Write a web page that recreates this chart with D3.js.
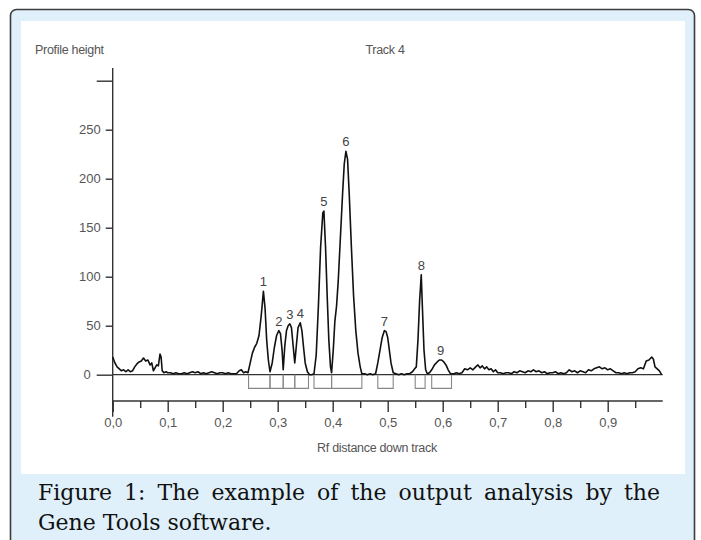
<!DOCTYPE html>
<html>
<head>
<meta charset="utf-8">
<script src="https://cdn.jsdelivr.net/npm/d3@7"></script>
<style>
  html, body { margin: 0; padding: 0; background: #ffffff; }
  svg { display: block; }
</style>
</head>
<body>
<svg id="chart" width="701" height="540"></svg>
<script>
// ---------------- DATA ----------------
const profileRf = [
  0.000,0.004,0.008,0.012,0.016,0.020,0.024,0.028,0.032,0.036,0.040,0.044,0.048,0.052,0.056,0.060,0.064,0.068,0.071,0.074,
  0.077,0.080,0.083,0.086,0.088,0.090,0.093,0.097,0.100,0.105,0.110,0.115,0.120,0.125,0.130,0.135,0.140,0.145,0.150,0.155,
  0.160,0.165,0.170,0.175,0.180,0.185,0.190,0.195,0.200,0.205,0.210,0.215,0.220,0.225,0.230,0.234,0.238,0.242,0.246,0.250,
  0.254,0.258,0.262,0.266,0.270,0.274,0.277,0.280,0.283,0.286,0.290,0.294,0.298,0.302,0.305,0.308,0.310,0.313,0.316,0.319,
  0.322,0.325,0.328,0.331,0.334,0.337,0.341,0.344,0.347,0.350,0.354,0.358,0.362,0.366,0.370,0.374,0.378,0.382,0.384,0.387,
  0.390,0.393,0.396,0.398,0.401,0.404,0.407,0.410,0.414,0.418,0.421,0.424,0.427,0.430,0.434,0.438,0.442,0.446,0.450,0.453,
  0.458,0.463,0.468,0.473,0.478,0.482,0.486,0.490,0.494,0.497,0.500,0.503,0.506,0.510,0.515,0.520,0.525,0.530,0.535,0.540,
  0.545,0.549,0.552,0.555,0.558,0.561,0.563,0.566,0.569,0.572,0.576,0.580,0.585,0.590,0.594,0.598,0.602,0.606,0.610,0.614,
  0.620,0.625,0.630,0.635,0.640,0.645,0.650,0.655,0.660,0.664,0.668,0.672,0.676,0.680,0.684,0.688,0.692,0.696,0.700,0.705,
  0.710,0.715,0.720,0.725,0.730,0.735,0.740,0.745,0.750,0.755,0.760,0.765,0.770,0.775,0.780,0.785,0.790,0.795,0.800,0.805,
  0.810,0.815,0.820,0.825,0.830,0.835,0.840,0.845,0.850,0.855,0.860,0.865,0.870,0.875,0.880,0.885,0.890,0.895,0.900,0.905,
  0.910,0.915,0.920,0.925,0.930,0.935,0.940,0.945,0.950,0.955,0.960,0.965,0.970,0.975,0.980,0.983,0.986,0.990,0.994,0.998
];
const profileHeight = [
  18,12,8,6,4,5,3,5,3,4,8,11,13,14,17,14,15,10,12,4,
  7,10,9,21,18,4,2,3,2,2,1,2,1,1,2,1,2,3,2,3,
  1,2,1,2,3,2,1,2,2,1,2,1,1,1,4,5,2,3,2,12,
  22,28,32,40,60,85,68,35,15,3,12,28,40,45,42,25,5,30,45,50,
  52,48,30,12,30,48,53,45,28,12,3,0,0,1,20,70,130,165,167,130,
  80,35,8,2,25,55,70,95,140,185,215,228,220,185,130,80,45,22,8,1,
  1,0,1,0,1,12,25,38,45,44,38,25,12,2,1,0,1,0,1,1,
  3,6,8,35,75,102,70,25,5,1,2,5,10,13,15,15,13,10,5,1,
  1,2,1,2,6,5,7,5,8,10,7,9,6,8,5,6,3,5,2,2,
  1,2,2,1,3,2,4,3,2,4,3,5,3,4,2,3,1,2,2,3,
  1,2,1,2,5,3,4,2,4,3,2,5,4,6,7,8,6,7,5,6,
  4,2,2,1,2,1,2,2,3,6,7,6,14,15,18,16,8,6,4,0
];

const peakIds    = ["1","2","3","4","5","6","7","8","9"];
const peakRf     = [0.274,0.302,0.322,0.341,0.384,0.424,0.494,0.561,0.596];
const peakTop    = [85,45,52,53,167,228,45,102,15];
const peakStart  = [0.247,0.286,0.310,0.331,0.366,0.398,0.482,0.550,0.580];
const peakEnd    = [0.286,0.310,0.331,0.356,0.398,0.453,0.510,0.568,0.616];

const yTickValues  = [50,100,150,200,250];
const yLongTicks   = [0,300];
const xMajorTicks  = [0,0.1,0.2,0.3,0.4,0.5,0.6,0.7,0.8,0.9];
const xMinorTicks  = [0.05,0.15,0.25,0.35,0.45,0.55,0.65,0.75,0.85,0.95];

const titleLeft  = "Profile height";
const titleRight = "Track 4";
const xLabel     = "Rf distance down track";
const captionLine1 = "Figure 1: The example of the output analysis by the";
const captionLine2 = "Gene Tools software.";

// ---------------- DRAW ----------------
const svg = d3.select("#chart");

// frame
svg.append("rect")
  .attr("x", 10.5).attr("y", 9.5).attr("width", 684).attr("height", 560)
  .attr("rx", 6).attr("ry", 6)
  .attr("fill", "#dff0fa").attr("stroke", "#3c3c3c").attr("stroke-width", 1.6);
svg.append("rect")
  .attr("x", 21).attr("y", 21).attr("width", 664).attr("height", 453)
  .attr("fill", "#ffffff");

const x = d3.scaleLinear().domain([0, 1]).range([112.7, 662.7]);
const y = d3.scaleLinear().domain([0, 300]).range([374.7, 80.7]);

const labelFont = "'Liberation Sans', Arial, sans-serif";
const labelColor = "#555";

// titles
svg.append("text").attr("x", 35).attr("y", 54)
  .attr("font-family", labelFont).attr("font-size", 12.5)
  .attr("fill", labelColor).attr("letter-spacing", -0.3)
  .text(titleLeft);
svg.append("text").attr("x", 385).attr("y", 54).attr("text-anchor", "middle")
  .attr("font-family", labelFont).attr("font-size", 12.5)
  .attr("fill", labelColor).attr("letter-spacing", -0.3)
  .text(titleRight);

// y axis line
svg.append("line")
  .attr("x1", x(0)).attr("x2", x(0))
  .attr("y1", y(313)).attr("y2", y(-43))
  .attr("stroke", "#333").attr("stroke-width", 1.4);

// y axis short ticks with labels
const yAxis = d3.axisLeft(y).tickValues(yTickValues).tickSize(7).tickPadding(5)
  .tickFormat(d3.format("d"));
const gy = svg.append("g").attr("transform", `translate(${x(0)},0)`).call(yAxis);
gy.select(".domain").remove();
gy.selectAll(".tick line").attr("stroke", "#333").attr("stroke-width", 1.4);
gy.selectAll(".tick text").attr("font-family", labelFont).attr("font-size", 13)
  .attr("fill", labelColor);

// y axis long ticks (0 labeled, 300 unlabeled)
const yAxisLong = d3.axisLeft(y).tickValues(yLongTicks).tickSize(16).tickPadding(6)
  .tickFormat(d => d === 0 ? "0" : "");
const gy2 = svg.append("g").attr("transform", `translate(${x(0)},0)`).call(yAxisLong);
gy2.select(".domain").remove();
gy2.selectAll(".tick line").attr("stroke", "#333").attr("stroke-width", 1.4);
gy2.selectAll(".tick text").attr("font-family", labelFont).attr("font-size", 13)
  .attr("fill", labelColor);

// baseline at 0 across the track
svg.append("line")
  .attr("x1", x(0)).attr("x2", x(1))
  .attr("y1", y(0)).attr("y2", y(0))
  .attr("stroke", "#333").attr("stroke-width", 1.2);

// x axis
const xAxisY = 401;
const xAxis = d3.axisBottom(x).tickValues(xMajorTicks).tickSize(11).tickPadding(6)
  .tickFormat(d => d3.format(".1f")(d).replace(".", ","));
const gx = svg.append("g").attr("transform", `translate(0,${xAxisY})`).call(xAxis);
gx.select(".domain").attr("stroke", "#333").attr("stroke-width", 1.4)
  .attr("d", `M${x(0)},0H${x(1)}`);
gx.selectAll(".tick line").attr("stroke", "#333").attr("stroke-width", 1.4);
gx.selectAll(".tick text").attr("font-family", labelFont).attr("font-size", 13)
  .attr("fill", labelColor);

const xAxisMinor = d3.axisBottom(x).tickValues(xMinorTicks).tickSize(7).tickFormat("");
const gxm = svg.append("g").attr("transform", `translate(0,${xAxisY})`).call(xAxisMinor);
gxm.select(".domain").remove();
gxm.selectAll(".tick line").attr("stroke", "#333").attr("stroke-width", 1.4);

// x label
svg.append("text").attr("x", 377).attr("y", 452).attr("text-anchor", "middle")
  .attr("font-family", labelFont).attr("font-size", 12.5)
  .attr("fill", labelColor).attr("letter-spacing", -0.3)
  .text(xLabel);

// integration boxes under peaks
const boxBottom = -14;
const boxes = svg.append("g");
peakIds.forEach((id, i) => {
  boxes.append("path")
    .attr("d", `M${x(peakStart[i])},${y(0)}V${y(boxBottom)}H${x(peakEnd[i])}V${y(0)}`)
    .attr("fill", "none").attr("stroke", "#888").attr("stroke-width", 1.1);
});

// profile line
const profile = profileRf.map((r, i) => [r, profileHeight[i]]);
svg.append("path")
  .datum(profile)
  .attr("d", d3.line().x(d => x(d[0])).y(d => y(d[1])))
  .attr("fill", "none").attr("stroke", "#111").attr("stroke-width", 1.6)
  .attr("stroke-linejoin", "round");

// peak labels
peakIds.forEach((id, i) => {
  svg.append("text")
    .attr("x", x(peakRf[i])).attr("y", y(peakTop[i]) - 5)
    .attr("text-anchor", "middle")
    .attr("font-family", labelFont).attr("font-size", 13)
    .attr("fill", "#444")
    .text(id);
});

// caption (line 1 justified across width)
const capFont = "'DejaVu Serif', 'Liberation Serif', serif";
const capLeft = 38, capRight = 660, capSize = 22;
const words = captionLine1.split(" ");
const wordNodes = words.map(w => svg.append("text")
  .attr("y", 500).attr("font-family", capFont).attr("font-size", capSize)
  .attr("fill", "#111").text(w));
const widths = wordNodes.map(n => n.node().getComputedTextLength());
const totalW = d3.sum(widths);
const gap = (capRight - capLeft - totalW) / (words.length - 1);
let cx = capLeft;
wordNodes.forEach((n, i) => { n.attr("x", cx); cx += widths[i] + gap; });

svg.append("text").attr("x", capLeft).attr("y", 530)
  .attr("font-family", capFont).attr("font-size", capSize)
  .attr("fill", "#111").text(captionLine2);
</script>
</body>
</html>
